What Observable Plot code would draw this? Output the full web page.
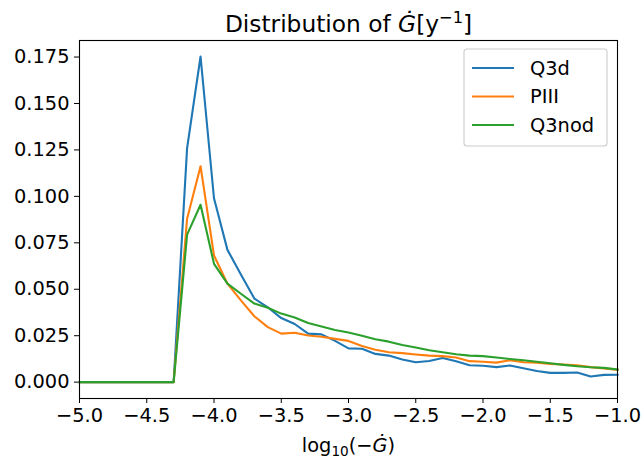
<!DOCTYPE html>
<html>
<head>
<meta charset="utf-8">
<script src="https://cdn.jsdelivr.net/npm/d3@7"></script>
<script src="https://cdn.jsdelivr.net/npm/@observablehq/plot@0.6"></script>
<style>
  html, body { margin: 0; padding: 0; background: white; }
  svg { display: block; }
</style>
</head>
<body>
<div id="chart"></div>
<script>
// ---- data ----
const xValues = [-5.0, -4.9, -4.8, -4.7, -4.6, -4.5, -4.4, -4.3, -4.2, -4.1,
  -4.0, -3.9, -3.8, -3.7, -3.6, -3.5, -3.4, -3.3, -3.2, -3.1,
  -3.0, -2.9, -2.8, -2.7, -2.6, -2.5, -2.4, -2.3, -2.2, -2.1,
  -2.0, -1.9, -1.8, -1.7, -1.6, -1.5, -1.4, -1.3, -1.2, -1.1, -1.0];

const q3d = [0, 0, 0, 0, 0, 0, 0, 0, 0.1260, 0.1753,
  0.0990, 0.0712, 0.0580, 0.0450, 0.0403, 0.0345, 0.0313, 0.0261, 0.0257, 0.0222,
  0.0182, 0.0180, 0.0152, 0.0143, 0.0122, 0.0107, 0.0114, 0.0130, 0.0113, 0.0091,
  0.0088, 0.0081, 0.0090, 0.0075, 0.0060, 0.0050, 0.0050, 0.0052, 0.0030, 0.0039, 0.0040];

const piii = [0, 0, 0, 0, 0, 0, 0, 0, 0.0880, 0.1162,
  0.0682, 0.0530, 0.0440, 0.0355, 0.0296, 0.0261, 0.0266, 0.0251, 0.0244, 0.0233,
  0.0222, 0.0195, 0.0174, 0.0161, 0.0156, 0.0149, 0.0143, 0.0140, 0.0133, 0.0113,
  0.0110, 0.0105, 0.0118, 0.0107, 0.0105, 0.0098, 0.0095, 0.0091, 0.0081, 0.0074, 0.0066];

const q3nod = [0, 0, 0, 0, 0, 0, 0, 0, 0.0794, 0.0955,
  0.0637, 0.0530, 0.0476, 0.0423, 0.0400, 0.0369, 0.0348, 0.0318, 0.0299, 0.0281,
  0.0267, 0.0250, 0.0231, 0.0218, 0.0200, 0.0187, 0.0172, 0.0161, 0.0150, 0.0143,
  0.0140, 0.0133, 0.0125, 0.0118, 0.0110, 0.0102, 0.0093, 0.0086, 0.0080, 0.0077, 0.0068];

const seriesNames = ["Q3d", "PIII", "Q3nod"];
const seriesColors = ["#1f77b4", "#ff7f0e", "#2ca02c"];
const seriesValues = [q3d, piii, q3nod];

const xTicks = [-5.0, -4.5, -4.0, -3.5, -3.0, -2.5, -2.0, -1.5, -1.0];
const yTicks = [0, 0.025, 0.05, 0.075, 0.1, 0.125, 0.15, 0.175];

const titleText = "Distribution of Ġ[y−1]";
const xLabelText = "log10(−Ġ)";

// ---- build table ----
const rows = [];
seriesNames.forEach((name, k) => {
  xValues.forEach((x, i) => rows.push({series: name, x, y: seriesValues[k][i]}));
});

const FONT = "DejaVu Sans";

const chart = Plot.plot({
  width: 644,
  height: 464,
  marginLeft: 79,
  marginRight: 27,
  marginTop: 40,
  marginBottom: 66,
  style: {fontFamily: FONT, fontSize: "19.4px", color: "black", background: "white", overflow: "visible"},
  x: {domain: [-5, -1], ticks: xTicks, tickFormat: d3.format(".1f"), tickSize: 5, tickPadding: 5, label: null},
  y: {domain: [-0.0088, 0.1839], ticks: yTicks, tickFormat: d3.format(".3f"), tickSize: 5, tickPadding: 5, label: null},
  marks: [
    ...seriesNames.map((name, k) =>
      Plot.line(rows.filter(d => d.series === name), {
        x: "x", y: "y", stroke: seriesColors[k], strokeWidth: 2.1,
        strokeLinejoin: "round", strokeLinecap: "square"
      })
    ),
    Plot.frame({stroke: "black", strokeWidth: 1.1}),
    Plot.text([titleText], {text: d => d, frameAnchor: "top", lineAnchor: "bottom", dy: -9, fontSize: 23.3, fill: "black"}),
    Plot.text([xLabelText], {text: d => d, frameAnchor: "bottom", lineAnchor: "top", dy: 40, fontSize: 19.4, fill: "black"})
  ]
});

document.getElementById("chart").appendChild(chart);

const svg = d3.select(chart);

// ---- rich formatting of title and x label (math-like) ----
svg.selectAll("text").each(function () {
  const t = d3.select(this);
  const s = this.textContent;
  if (s === titleText) {
    t.text(null);
    t.append("tspan").text("Distribution of ");
    t.append("tspan").attr("font-style", "italic").text("Ġ");
    t.append("tspan").text("[y");
    t.append("tspan").attr("font-size", "16.3px").attr("dy", "-9").text("−1");
    t.append("tspan").attr("dy", "9").text("]");
  } else if (s === xLabelText) {
    t.text(null);
    t.append("tspan").text("log");
    t.append("tspan").attr("font-size", "13.6px").attr("dy", "4").text("10");
    t.append("tspan").attr("dy", "-4").text("(−");
    t.append("tspan").attr("font-style", "italic").text("Ġ");
    t.append("tspan").text(")");
  }
});

// ---- legend (matplotlib-style box, upper right) ----
const lg = svg.append("g").attr("font-family", FONT).attr("font-size", "19.4px").attr("text-anchor", "start");
const boxX = 464, boxY = 49, boxW = 143, boxH = 97;
lg.append("rect").attr("x", boxX).attr("y", boxY).attr("width", boxW).attr("height", boxH)
  .attr("rx", 3).attr("fill", "white").attr("fill-opacity", 0.8)
  .attr("stroke", "#cccccc").attr("stroke-width", 1.1);
seriesNames.forEach((name, k) => {
  const cy = boxY + 19 + k * 28.5;
  lg.append("line").attr("x1", boxX + 8).attr("x2", boxX + 50).attr("y1", cy).attr("y2", cy)
    .attr("stroke", seriesColors[k]).attr("stroke-width", 2.1);
  lg.append("text").attr("x", boxX + 66).attr("y", cy).attr("dy", "0.35em")
    .attr("text-anchor", "start").attr("fill", "black").text(name);
});
</script>
</body>
</html>
